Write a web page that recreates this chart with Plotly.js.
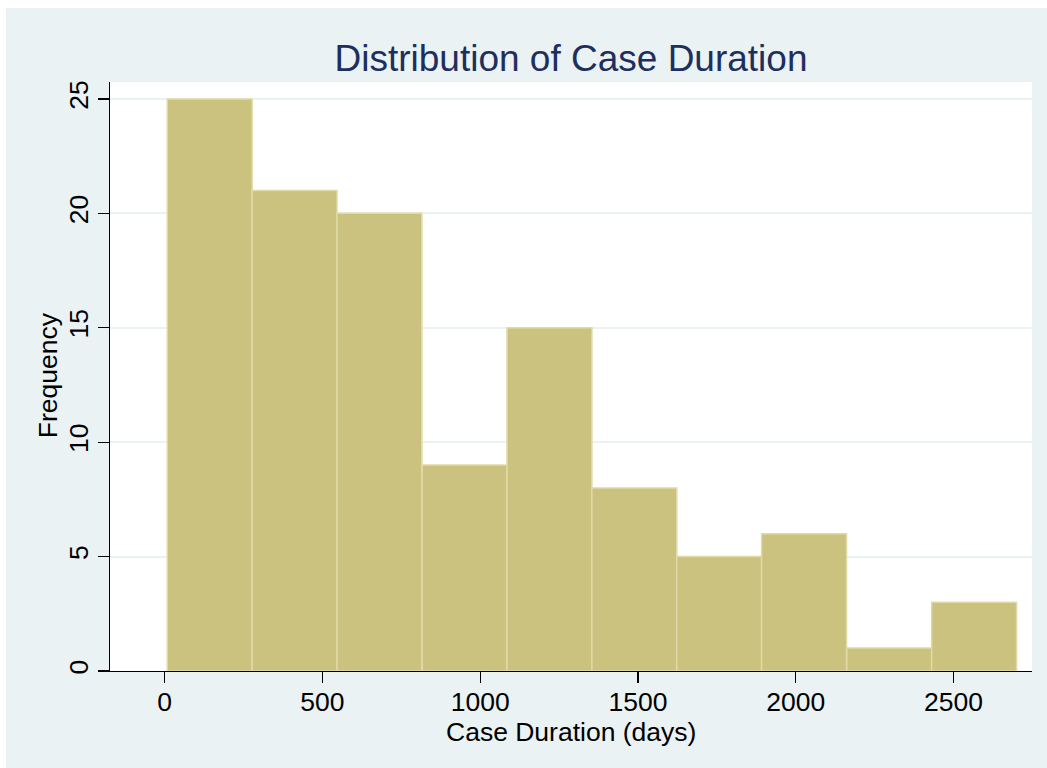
<!DOCTYPE html>
<html>
<head>
<meta charset="utf-8">
<script src="https://cdn.plot.ly/plotly-3.0.1.min.js"></script>
<style>
  html, body { margin: 0; padding: 0; background: #ffffff; width: 1047px; height: 768px; overflow: hidden; }
  #chart { position: absolute; left: 6px; top: 8px; width: 1041px; height: 760px; }
</style>
</head>
<body>
<div id="chart"></div>
<script>
// Histogram bins
const binLeft = [8, 277, 546, 816, 1085, 1354, 1623, 1892, 2162, 2431];
const binWidth = 269.2;
const frequency = [25, 21, 20, 9, 15, 8, 5, 6, 1, 3];
const xTickVals = [0, 500, 1000, 1500, 2000, 2500];
const yTickVals = [0, 5, 10, 15, 20, 25];

const titleText = "Distribution of Case Duration";
const xTitle = "Case Duration (days)";
const yTitle = "Frequency";

const centers = binLeft.map(l => l + binWidth / 2);
const widths = binLeft.map(() => binWidth);

const font = "Liberation Sans, Arial, Helvetica, sans-serif";

const trace = {
  type: "bar",
  x: centers,
  y: frequency,
  width: widths,
  marker: { color: "#CAC27E", line: { color: "#E0DBA6", width: 1.5 } },
  hoverinfo: "x+y"
};

const layout = {
  width: 1041,
  height: 760,
  paper_bgcolor: "#EAF2F3",
  plot_bgcolor: "#FFFFFF",
  margin: { l: 104, r: 15, t: 74, b: 96.5 },
  showlegend: false,
  bargap: 0,
  title: {
    text: titleText,
    font: { family: font, size: 37, color: "#1E2F5E" },
    x: 0.5, xref: "paper", xanchor: "center",
    y: 1 - 50 / 760, yref: "container", yanchor: "middle"
  },
  xaxis: {
    range: [-173.4, 2749.1],
    tickvals: xTickVals,
    ticktext: xTickVals.map(String),
    ticks: "outside", ticklen: 11, tickwidth: 1.3, tickcolor: "#000",
    ticklabelstandoff: -4,
    showline: true, linecolor: "#000", linewidth: 1.3,
    showgrid: false, zeroline: false,
    tickfont: { family: font, size: 26.5, color: "#000" }
  },
  yaxis: {
    range: [0, 25.74],
    tickvals: yTickVals,
    ticktext: yTickVals.map(String),
    tickangle: -90,
    ticks: "outside", ticklen: 11, tickwidth: 1.3, tickcolor: "#000",
    ticklabelstandoff: -1,
    showline: true, linecolor: "#000", linewidth: 1.3,
    showgrid: true, gridcolor: "#EAF2F3", gridwidth: 2,
    zeroline: false,
    tickfont: { family: font, size: 26.5, color: "#000" }
  },
  annotations: [
    {
      text: xTitle, showarrow: false,
      xref: "paper", yref: "paper", x: 0.5, y: -0.1044,
      xanchor: "center", yanchor: "middle",
      font: { family: font, size: 26.5, color: "#000" }
    },
    {
      text: yTitle, showarrow: false, textangle: -90,
      xref: "paper", yref: "paper", x: -0.0678, y: 0.503,
      xanchor: "center", yanchor: "middle",
      font: { family: font, size: 26.5, color: "#000" }
    }
  ]
};

Plotly.newPlot("chart", [trace], layout, { displayModeBar: false, staticPlot: true });
</script>
</body>
</html>
